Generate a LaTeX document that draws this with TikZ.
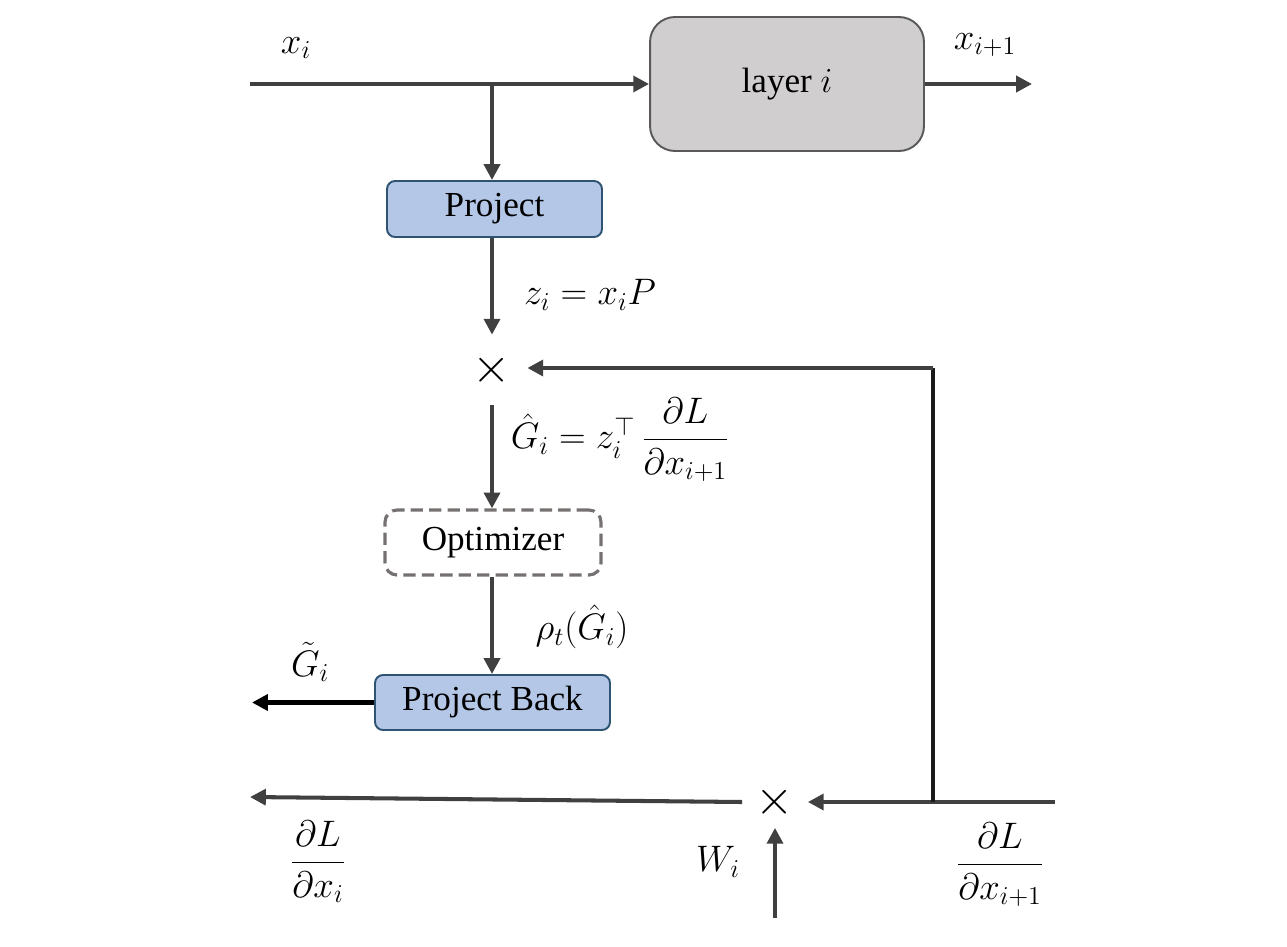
\RequirePackage{fix-cm}
\documentclass[tikz,border=0pt]{standalone}
\usepackage{amsmath}
\usepackage{fontspec}
\setmainfont{Liberation Serif}
\usetikzlibrary{arrows.meta}
\definecolor{linegray}{HTML}{404040}
\definecolor{boxblue}{HTML}{B4C7E7}
\definecolor{edgeblue}{HTML}{2F5473}
\definecolor{layerfill}{HTML}{D0CECE}
\definecolor{layeredge}{HTML}{595959}
\definecolor{dashgray}{HTML}{767171}
\begin{document}
\begin{tikzpicture}[x=0.02cm,y=-0.02cm,
  font=\fontsize{20}{24}\selectfont,
  conn/.style={draw=linegray, line width=2.3pt, -{Triangle[length=9pt,width=9pt]}},
  darkconn/.style={draw=black, line width=2.3pt, -{Triangle[length=9pt,width=9pt]}},
  tapline/.style={draw=black!90, line width=1.8pt},
  bluebox/.style={draw=edgeblue, fill=boxblue, line width=1.1pt, rounded corners=0.16cm, inner sep=0pt},
  layerbox/.style={draw=layeredge, fill=layerfill, line width=1.1pt, rounded corners=0.5cm, inner sep=0pt},
  optbox/.style={draw=dashgray, line width=1.8pt, dash pattern=on 7pt off 3.5pt, rounded corners=0.24cm, inner sep=0pt},
  mulnode/.style={circle, inner sep=0pt, minimum size=1.4cm, font=\fontsize{28}{30}\selectfont},
  lbl/.style={inner sep=0pt, font=\fontsize{21}{25}\selectfont}]
\useasboundingbox (0,0) rectangle (1287,946);

% blocks
\node[layerbox, minimum width=5.48cm, minimum height=2.68cm] (layer) at (787,84) {layer $i$};
\node[bluebox, minimum width=4.3cm, minimum height=1.12cm] (proj) at (494.5,209) {Project};
\node[optbox, minimum width=4.32cm, minimum height=1.3cm] (opt) at (493,542.5) {Optimizer};
\node[bluebox, minimum width=4.7cm, minimum height=1.1cm] (pback) at (492.5,702.5) {Project Back};

% multiplication points
\node[mulnode] (m1) at (492,370) {$\times$};
\node[mulnode, minimum size=1.3cm] (m2) at (775,802) {$\times$};

% free ends
\coordinate (xin) at (250,84);
\coordinate (xout) at (1032,84);
\coordinate (branch) at (492,84);
\coordinate (gtout) at (252,700);
\coordinate (gin) at (1055,802);
\coordinate (gout) at (250,797);
\coordinate (tap) at (933,802);
\coordinate (corner) at (933,368);
\coordinate (wbot) at (775,918);

% forward path
\draw[conn] (xin) -- (layer.west);
\draw[conn] (layer.east) -- (xout);
\draw[conn] (branch) -- (branch |- proj.north);
\draw[conn] (m1 |- proj.south) -- (m1.north);
\draw[conn] (m1.south) -- (m1 |- opt.north);
\draw[conn] (m1 |- opt.south) -- (m1 |- pback.north);
\draw[darkconn] (pback.west) -- (pback.west -| gtout);

% backward path
\draw[conn] (gin) -- (m2.east);
\draw[conn] (m2.west) -- (gout);
\draw[tapline] (tap) -- (corner);
\draw[conn] (corner) -- (corner -| m1.east);
\draw[conn, shorten >=-0.14cm] (wbot) -- (m2.south);

% labels
\node[lbl] (lxi) at (296,48) {$x_i$};
\node[lbl] (lxo) at (985,45) {$x_{i+1}$};
\node[lbl] (lz) at (590,295) {$z_i = x_iP$};
\node[lbl] (lg) at (620,440) {$\hat{G}_i = z_i^{\top}\,\dfrac{\partial L}{\partial x_{i+1}}$};
\node[lbl] (lrho) at (582,627) {$\rho_t(\hat{G}_i)$};
\node[lbl] (lgt) at (310,662) {$\tilde{G}_i$};
\node[lbl] (ldxi) at (318,862) {$\dfrac{\partial L}{\partial x_i}$};
\node[lbl] (lw) at (718,862) {$W_i$};
\node[lbl] (ldxo) at (1000,865) {$\dfrac{\partial L}{\partial x_{i+1}}$};
\end{tikzpicture}
\end{document}
